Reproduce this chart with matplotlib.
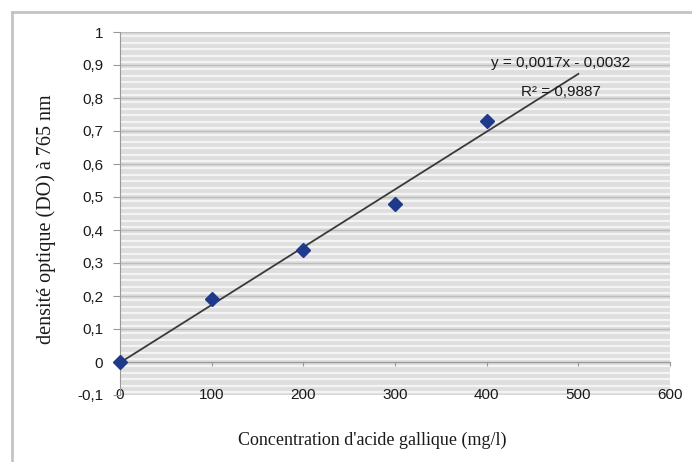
import numpy as np
import matplotlib
matplotlib.use("Agg")
import matplotlib.pyplot as plt
from matplotlib.lines import Line2D

# Data
conc = [0, 100, 200, 300, 400]
absorb = [0.0, 0.19, 0.34, 0.48, 0.73]
trend_x = [0, 500]
xticks = [0, 100, 200, 300, 400, 500, 600]
xtick_labels = ["0", "100", "200", "300", "400", "500", "600"]
yticks = [-0.1, 0, 0.1, 0.2, 0.3, 0.4, 0.5, 0.6, 0.7, 0.8, 0.9, 1.0]
ytick_labels = ["-0,1", "0", "0,1", "0,2", "0,3", "0,4", "0,5", "0,6", "0,7", "0,8", "0,9", "1"]
eq_text = "y = 0,0017x - 0,0032"
r2_text = "R² = 0,9887"
xlabel = "Concentration d'acide gallique (mg/l)"
ylabel = "densité optique (DO) à 765 nm"

W, H = 692, 462
fig = plt.figure(figsize=(W / 100, H / 100), dpi=100)
fig.patch.set_facecolor("white")

# outer chart frame (top and left edges)
fig.add_artist(Line2D([12 / W, 1.0], [1 - 12 / H, 1 - 12 / H], transform=fig.transFigure,
                      color="#c4c4c4", lw=2))
fig.add_artist(Line2D([12 / W, 12 / W], [1 - 12 / H, 0.0], transform=fig.transFigure,
                      color="#c4c4c4", lw=2))

left, right, top, bottom = 120, 670, 32, 395
ax = fig.add_axes([left / W, 1 - bottom / H, (right - left) / W, (bottom - top) / H])
ax.set_facecolor("#dedede")
ax.set_xlim(0, 600)
ax.set_ylim(-0.1, 1.0)

# striped gridlines
for v in np.arange(-0.1, 1.0001, 0.02):
    ax.axhline(v + 0.008, color="#f4f4f4", lw=1.6, zorder=0.5)
for v in yticks:
    ax.axhline(v, color="#bcbcbc", lw=1.0, zorder=0.6)

# fit line computed from data
coef = np.polyfit(conc, absorb, 1)
tx = np.array(trend_x)
ax.plot(tx, np.polyval(coef, tx), color="#3a3a3a", lw=1.3, zorder=2)

ax.plot(conc, absorb, linestyle="none", marker="D", ms=7.5, color="#1f3a8a",
        markeredgecolor="#1f3a8a", zorder=3, clip_on=False)

ax.text(481, 0.905, eq_text, ha="center", va="center", fontsize=11,
        family="Liberation Sans", color="#1a1a1a")
ax.text(481, 0.818, r2_text, ha="center", va="center", fontsize=11,
        family="Liberation Sans", color="#1a1a1a")

for s in ["top", "right"]:
    ax.spines[s].set_visible(False)
ax.spines["bottom"].set_position(("data", 0))
ax.spines["bottom"].set_color("#999999")
ax.spines["left"].set_color("#999999")

ax.set_xticks(xticks)
ax.set_xticklabels(xtick_labels, fontsize=11, family="Liberation Sans", color="#1a1a1a")
ax.set_yticks(yticks)
ax.set_yticklabels(ytick_labels, fontsize=11, family="Liberation Sans", color="#1a1a1a")
ax.tick_params(axis="x", direction="out", length=3, pad=16, color="#999999")
ax.tick_params(axis="y", direction="out", length=5, pad=7, color="#999999")

fig.text(372 / W, 1 - 440 / H, xlabel, ha="center", va="center", fontsize=13,
         family="Liberation Serif", color="#1a1a1a")
fig.text(46 / W, 1 - 219 / H, ylabel, ha="center", va="center", rotation=90,
         fontsize=14.5, family="Liberation Serif", color="#1a1a1a")

fig.savefig("out.png", dpi=100)
